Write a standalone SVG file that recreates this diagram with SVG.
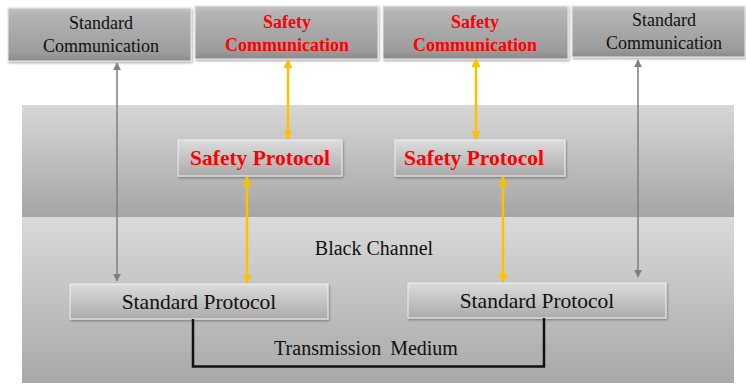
<svg xmlns="http://www.w3.org/2000/svg" width="746" height="384" viewBox="0 0 746 384" font-family="'Liberation Serif', 'Times New Roman', serif">
<defs>
<linearGradient id="gTop" x1="0" y1="0" x2="0" y2="1">
<stop offset="0" stop-color="#c4c4c4"/><stop offset="0.12" stop-color="#b4b4b4"/><stop offset="0.85" stop-color="#9c9c9c"/><stop offset="1" stop-color="#8a8a8a"/>
</linearGradient>
<linearGradient id="gUp" x1="0" y1="0" x2="0" y2="1">
<stop offset="0" stop-color="#d7d7d7"/><stop offset="1" stop-color="#a5a5a5"/>
</linearGradient>
<linearGradient id="gLow" x1="0" y1="0" x2="0" y2="1">
<stop offset="0" stop-color="#dadada"/><stop offset="1" stop-color="#a8a8a8"/>
</linearGradient>
<linearGradient id="gBox" x1="0" y1="0" x2="0" y2="1">
<stop offset="0" stop-color="#dcdcdc"/><stop offset="1" stop-color="#ababab"/>
</linearGradient>
<filter id="sh" x="-5%" y="-10%" width="110%" height="130%">
<feDropShadow dx="1" dy="1.5" stdDeviation="1" flood-color="#000" flood-opacity="0.35"/>
</filter>
<marker id="ay" viewBox="0 0 10 10" refX="9" refY="5" markerWidth="9" markerHeight="9" markerUnits="userSpaceOnUse" orient="auto-start-reverse">
<path d="M0,0 L10,5 L0,10 z" fill="#ffc000"/>
</marker>
<marker id="ag" viewBox="0 0 10 10" refX="9" refY="5" markerWidth="8" markerHeight="8" markerUnits="userSpaceOnUse" orient="auto-start-reverse">
<path d="M0,0 L10,5 L0,10 z" fill="#808080"/>
</marker>
</defs>
<style>
.top{fill:url(#gTop);stroke:#e8e8e8;stroke-width:1}
.box{fill:url(#gBox);stroke:#f0f0f0;stroke-width:1}
text{font-family:'Liberation Serif','Times New Roman',serif}
.t{text-anchor:middle;fill:#111}
.s{font-size:18px}
.r{font-weight:bold;fill:#ff0000}
.y{stroke:#ffc000;stroke-width:2.5;fill:none}
.g{stroke:#7f7f7f;stroke-width:1.5;fill:none}
</style>
<rect width="746" height="384" fill="#ffffff"/>
<g id="channel">
<rect x="22" y="105" width="712" height="112" fill="url(#gUp)"/>
<rect x="22" y="217" width="712" height="166" fill="url(#gLow)"/>
<text class="t" x="374" y="255" font-size="20">Black Channel</text>
</g>
<g id="std-comm-left">
<rect class="top" x="8" y="8" width="183" height="53" filter="url(#sh)"/>
<text class="t s" x="101" y="29">Standard</text>
<text class="t s" x="101" y="52">Communication</text>
</g>
<g id="safe-comm-left">
<rect class="top" x="195" y="6" width="183" height="53" filter="url(#sh)"/>
<text class="t s r" x="287" y="28">Safety</text>
<text class="t s r" x="287" y="51">Communication</text>
</g>
<g id="safe-comm-right">
<rect class="top" x="383" y="6" width="185" height="53" filter="url(#sh)"/>
<text class="t s r" x="475" y="28">Safety</text>
<text class="t s r" x="475" y="51">Communication</text>
</g>
<g id="std-comm-right">
<rect class="top" x="572" y="6" width="173" height="51" filter="url(#sh)"/>
<text class="t s" x="664" y="26">Standard</text>
<text class="t s" x="664" y="49">Communication</text>
</g>
<g id="safety-protocol-left">
<rect class="box" x="178" y="140" width="164" height="36" filter="url(#sh)"/>
<text class="t r" x="260" y="165" font-size="21.5">Safety Protocol</text>
</g>
<g id="safety-protocol-right">
<rect class="box" x="395" y="140" width="170" height="36" filter="url(#sh)"/>
<text class="t r" x="474" y="165" font-size="21.5">Safety Protocol</text>
</g>
<g id="std-protocol-left">
<rect class="box" x="70" y="284" width="258" height="35" filter="url(#sh)"/>
<text class="t" x="199" y="309" font-size="21.5">Standard Protocol</text>
</g>
<g id="std-protocol-right">
<rect class="box" x="408" y="283" width="258" height="35" filter="url(#sh)"/>
<text class="t" x="537" y="308" font-size="21.5">Standard Protocol</text>
</g>
<g id="medium">
<text class="t" x="366" y="355" font-size="20" word-spacing="4">Transmission Medium</text>
</g>
<g id="connectors">
<path d="M193,319 V366.5 H544 V318" stroke="#111" stroke-width="2.5" fill="none"/>
<line class="g" x1="117" y1="63" x2="117" y2="281" marker-start="url(#ag)" marker-end="url(#ag)"/>
<line class="g" x1="638" y1="60" x2="638" y2="277" marker-start="url(#ag)" marker-end="url(#ag)"/>
<line class="y" x1="288" y1="60" x2="288" y2="139" marker-start="url(#ay)" marker-end="url(#ay)"/>
<line class="y" x1="247" y1="177" x2="247" y2="283" marker-start="url(#ay)" marker-end="url(#ay)"/>
<line class="y" x1="476" y1="59" x2="476" y2="139" marker-start="url(#ay)" marker-end="url(#ay)"/>
<line class="y" x1="503" y1="177" x2="503" y2="282" marker-start="url(#ay)" marker-end="url(#ay)"/>
</g>
</svg>
